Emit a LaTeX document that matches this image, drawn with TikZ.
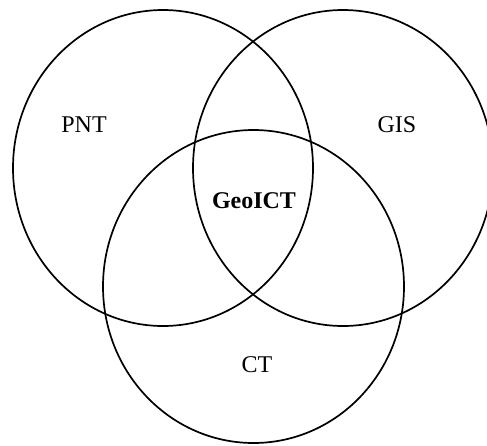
\documentclass[tikz,border=0pt]{standalone}
\usepackage{fontspec}
\setmainfont{Liberation Serif}
\usetikzlibrary{positioning}

\begin{document}
\begin{tikzpicture}[x=1pt,y=-1pt]
        \useasboundingbox (0,0) rectangle (487,445);
        %\draw (0,0) rectangle (487,445);
        \draw[line width=1.7pt] (163,168) ellipse (150 and 158);
        \draw[line width=1.7pt] (343,168) ellipse (150 and 158);
        \draw[line width=1.7pt] (253.5,286.5) ellipse (150.5 and 156.5);
        \node[font=\fontsize{24}{28}\selectfont] (pnt) at (84,125) {PNT};
        \node[font=\fontsize{24}{28}\selectfont] (gis) at (397,125) {GIS};
        \node[font=\fontsize{24}{28}\selectfont\bfseries] (geoict) at (254,201) {GeoICT};
        \node[font=\fontsize{24}{28}\selectfont] (ct) at (257,365) {CT};
        \end{tikzpicture}
\end{document}
